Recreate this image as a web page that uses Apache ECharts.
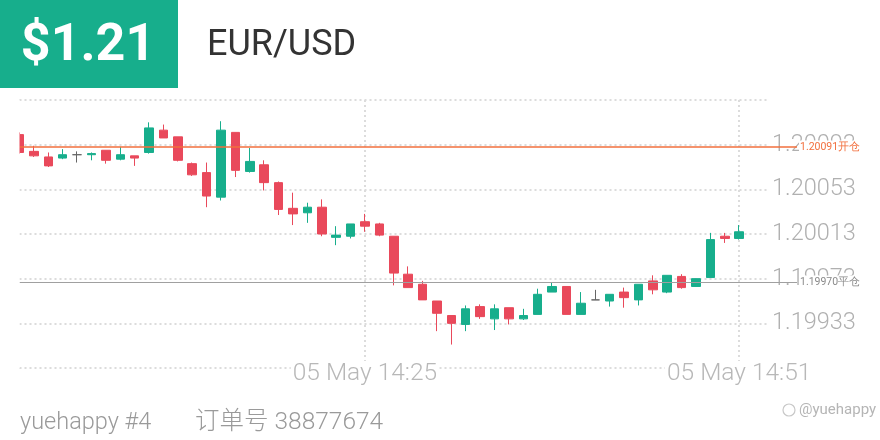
<!DOCTYPE html>
<html>
<head>
<meta charset="utf-8">
<script src="https://cdn.jsdelivr.net/npm/echarts@6/dist/echarts.min.js"></script>
<style>
  html, body { margin: 0; padding: 0; background: #fff; }
  #chart { width: 880px; height: 440px; }
</style>
</head>
<body>
<div id="chart"></div>
<script>
// ---- data ----
const categories = [
  '05 May 14:01','05 May 14:02','05 May 14:03','05 May 14:04','05 May 14:05','05 May 14:06','05 May 14:07','05 May 14:08','05 May 14:09','05 May 14:10',
  '05 May 14:11','05 May 14:12','05 May 14:13','05 May 14:14','05 May 14:15','05 May 14:16','05 May 14:17','05 May 14:18','05 May 14:19','05 May 14:20',
  '05 May 14:21','05 May 14:22','05 May 14:23','05 May 14:24','05 May 14:25','05 May 14:26','05 May 14:27','05 May 14:28','05 May 14:29','05 May 14:30',
  '05 May 14:31','05 May 14:32','05 May 14:33','05 May 14:34','05 May 14:35','05 May 14:36','05 May 14:37','05 May 14:38','05 May 14:39','05 May 14:40',
  '05 May 14:41','05 May 14:42','05 May 14:43','05 May 14:44','05 May 14:45','05 May 14:46','05 May 14:47','05 May 14:48','05 May 14:49','05 May 14:50',
  '05 May 14:51','05 May 14:52','05 May 14:53'
];
const shownTimeLabels = ['05 May 14:25', '05 May 14:51'];

const opens = [
  1.20102, 1.20087, 1.20082, 1.20081, 1.20084, 1.20084, 1.20088, 1.20080, 1.20083, 1.20086,
  1.20106, 1.20100, 1.20076, 1.20068, 1.20046, 1.20104, 1.20069, 1.20075, 1.20059, 1.20036,
  1.20032, 1.20037, 1.20010, 1.20011, 1.20024, 1.20022, 1.20011, 1.19977, 1.19968, 1.19953,
  1.19940, 1.19932, 1.19948, 1.19937, 1.19947, 1.19937, 1.19941, 1.19961, 1.19966, 1.19941,
  1.19954, 1.19953, 1.19961, 1.19954, 1.19971, 1.19961, 1.19975, 1.19966, 1.19974, 1.20011,
  1.20009
];
const closes = [
  1.20086, 1.20083, 1.20074, 1.20084, 1.20084, 1.20085, 1.20079, 1.20084, 1.20081, 1.20108,
  1.20099, 1.20079, 1.20066, 1.20047, 1.20106, 1.20070, 1.20078, 1.20059, 1.20035, 1.20031,
  1.20037, 1.20013, 1.20012, 1.20022, 1.20020, 1.20012, 1.19978, 1.19965, 1.19954, 1.19942,
  1.19933, 1.19946, 1.19939, 1.19946, 1.19937, 1.19940, 1.19959, 1.19966, 1.19941, 1.19951,
  1.19954, 1.19959, 1.19956, 1.19968, 1.19963, 1.19976, 1.19965, 1.19973, 1.20008, 1.20009,
  1.20015
];
const lows = [
  1.20085, 1.20082, 1.20073, 1.20080, 1.20077, 1.20079, 1.20076, 1.20079, 1.20074, 1.20085,
  1.20099, 1.20078, 1.20065, 1.20037, 1.20043, 1.20064, 1.20068, 1.20052, 1.20030, 1.20021,
  1.20023, 1.20011, 1.20003, 1.20009, 1.20015, 1.20011, 1.19967, 1.19965, 1.19954, 1.19926,
  1.19914, 1.19926, 1.19937, 1.19927, 1.19932, 1.19936, 1.19941, 1.19961, 1.19941, 1.19941,
  1.19954, 1.19948, 1.19947, 1.19949, 1.19959, 1.19960, 1.19964, 1.19966, 1.19974, 1.20005,
  1.20008
];
const highs = [
  1.20104, 1.20092, 1.20086, 1.20089, 1.20087, 1.20086, 1.20088, 1.20091, 1.20083, 1.20113,
  1.20111, 1.20100, 1.20077, 1.20077, 1.20114, 1.20104, 1.20090, 1.20079, 1.20060, 1.20050,
  1.20041, 1.20044, 1.20020, 1.20022, 1.20031, 1.20023, 1.20011, 1.19984, 1.19971, 1.19953,
  1.19940, 1.19949, 1.19950, 1.19950, 1.19947, 1.19946, 1.19964, 1.19970, 1.19966, 1.19961,
  1.19963, 1.19959, 1.19965, 1.19968, 1.19976, 1.19976, 1.19977, 1.19973, 1.20014, 1.20014,
  1.20021
];
const yTicks = { min: 1.19893, max: 1.20133, step: 0.0004 };
const openPrice = 1.20091;   // 开仓
const closePrice = 1.19970;  // 平仓
const headerPrice = '$1.21';
const pairName = 'EUR/USD';
const footerUser = 'yuehappy #4';
const footerOrder = '订单号 38877674';
const watermark = '@yuehappy';

// ---- chart ----
const GREEN = '#17ae8c';
const RED = '#e9495b';
const ORANGE = '#f26f3d';
const GRAYLINE = '#a0a0a0';
const candleData = opens.map((o, i) => [o, closes[i], lows[i], highs[i]]);

const chart = echarts.init(document.getElementById('chart'), null, { renderer: 'canvas' });
const dotted = { color: '#dcdcdc', width: 2, type: [2, 3] };

// an empty helper series that only carries one horizontal price line
function priceLineSeries(value, color, textColor, tag, width) {
  return {
    type: 'line',
    data: [],
    color: color,
    silent: true,
    z: 3,
    markLine: {
      silent: true,
      symbol: ['none', 'none'],
      animation: false,
      lineStyle: { color: color, width: width, type: 'solid', opacity: 1 },
      itemStyle: { color: color },
      label: {
        show: true, position: 'end', distance: 2, fontSize: 10.5, fontFamily: 'Roboto',
        color: textColor, backgroundColor: '#ffffff', padding: [1, 1],
        formatter: value.toFixed(5) + tag
      },
      data: [[
        { yAxis: value, x: 19.5 },
        { yAxis: value, x: 797 }
      ]]
    }
  };
}

chart.setOption({
  animation: false,
  backgroundColor: '#ffffff',
  grid: { left: 19.5, right: 112, top: 100, bottom: 72, containLabel: false },
  xAxis: {
    type: 'category',
    data: categories,
    boundaryGap: false,
    axisLine: { show: false },
    axisTick: { show: false },
    axisLabel: {
      interval: (idx, val) => shownTimeLabels.indexOf(val) >= 0,
      margin: -7,
      fontSize: 24.5,
      fontFamily: 'Roboto',
      fontWeight: 300,
      color: '#b8b8b8',
      backgroundColor: '#ffffff',
      padding: [0, 2]
    },
    splitLine: {
      show: true,
      interval: (idx, val) => shownTimeLabels.indexOf(val) >= 0,
      lineStyle: dotted
    }
  },
  yAxis: {
    type: 'value',
    position: 'right',
    min: yTicks.min,
    max: yTicks.max,
    interval: yTicks.step,
    axisLine: { show: false },
    axisTick: { show: false },
    axisLabel: {
      showMinLabel: false,
      showMaxLabel: false,
      margin: 4,
      fontSize: 23.5,
      fontFamily: 'Roboto',
      fontWeight: 300,
      color: '#b0b0b0',
      formatter: v => v.toFixed(5)
    },
    splitLine: { show: true, lineStyle: dotted }
  },
  series: [
    {
      type: 'candlestick',
      data: candleData,
      barWidth: 9,
      itemStyle: {
        color: GREEN,
        color0: RED,
        borderColor: GREEN,
        borderColor0: RED,
        borderColorDoji: '#666666',
        borderWidth: 1
      }
    },
    priceLineSeries(openPrice, ORANGE, ORANGE, '开仓', 1.6),
    priceLineSeries(closePrice, GRAYLINE, '#8a8a8a', '平仓', 1.2)
  ],
  graphic: [
    // mask outside the plot on the left (the first candle is cut by the plot edge)
    { type: 'rect', left: 0, top: 100, z: 10, shape: { width: 19.5, height: 268 }, style: { fill: '#ffffff' } },
    { type: 'rect', left: 0, top: 0, z: 11, shape: { width: 178, height: 88 }, style: { fill: GREEN } },
    { type: 'text', x: 88, y: 47, z: 12, style: { text: headerPrice, fill: '#ffffff', font: 'bold 52px Roboto', textAlign: 'center', textVerticalAlign: 'middle' } },
    { type: 'text', x: 207, y: 46, z: 12, style: { text: pairName, fill: '#333333', font: '36px Roboto', textAlign: 'left', textVerticalAlign: 'middle' } },
    { type: 'text', x: 20, y: 423, z: 12, style: { text: footerUser, fill: '#9a9a9a', font: '300 23.5px Roboto', textAlign: 'left', textVerticalAlign: 'middle' } },
    { type: 'text', x: 195, y: 423, z: 12, style: { text: footerOrder, fill: '#9a9a9a', font: '300 24.5px Roboto, "Noto Sans CJK SC"', textAlign: 'left', textVerticalAlign: 'middle' } },
    { type: 'circle', z: 12, shape: { cx: 789, cy: 410, r: 6 }, style: { fill: 'none', stroke: '#c8c8c8', lineWidth: 1.2 } },
    { type: 'text', x: 799, y: 410, z: 12, style: { text: watermark, fill: '#b5b5b5', font: '15px Roboto', textAlign: 'left', textVerticalAlign: 'middle' } }
  ]
});
</script>
</body>
</html>
